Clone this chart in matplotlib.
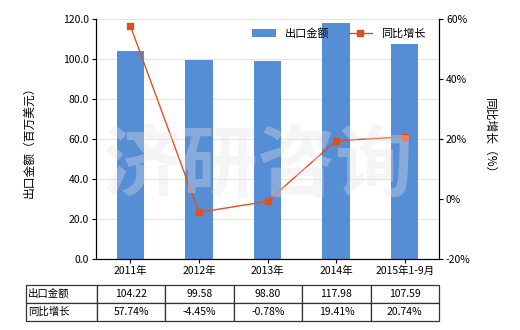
import matplotlib
matplotlib.use('Agg')
import matplotlib.pyplot as plt
import numpy as np

plt.rcParams['font.family'] = ['Noto Sans CJK SC', 'DejaVu Sans']

# data
years = ['2011年', '2012年', '2013年', '2014年', '2015年1-9月']
export_value = [104.22, 99.58, 98.80, 117.98, 107.59]     # 百万美元
yoy_growth = [57.74, -4.45, -0.78, 19.41, 20.74]           # %
value_labels = ['104.22', '99.58', '98.80', '117.98', '107.59']
growth_labels = ['57.74%', '-4.45%', '-0.78%', '19.41%', '20.74%']

bar_color = '#558ed5'
line_color = '#e0501e'
W, H = 520, 330

fig = plt.figure(figsize=(W / 100, H / 100), dpi=100)
# axes in pixel coords: left 96, right 439, top 19, bottom 259
ax = fig.add_axes([96 / W, 1 - 259 / H, (439 - 96) / W, (259 - 19) / H])
x = np.arange(len(years))
ax.bar(x, export_value, width=0.4, color=bar_color, label='出口金额', zorder=2)
ax.set_xlim(-0.5, len(years) - 0.5)
ax.set_ylim(0, 120)
ax.set_yticks(np.arange(0, 121, 20))
ax.set_yticklabels(['%.1f' % v for v in np.arange(0, 121, 20)])
ax.set_xticks(x)
ax.set_xticklabels(years)
ax.grid(axis='y', color='#e6e6d8', linewidth=0.8, zorder=0)
ax.set_ylabel('出口金额（百万美元）', fontsize=8.5, labelpad=20)
ax.spines['top'].set_visible(False)
ax.tick_params(labelsize=7.5, length=3, pad=2)

ax2 = ax.twinx()
ax2.plot(x, yoy_growth, color=line_color, marker='s', markersize=5,
         linewidth=1, label='同比增长', zorder=3)
ax2.set_ylim(-20, 60)
ax2.set_yticks(np.arange(-20, 61, 20))
ax2.set_yticklabels(['%d%%' % v for v in np.arange(-20, 61, 20)])
ax2.set_ylabel('同比增长（%）', fontsize=8.5, rotation=270, labelpad=18)
ax2.spines['top'].set_visible(False)
ax2.tick_params(labelsize=7.5, length=3, pad=2)

# watermark
fig.text(258 / W, 1 - 168 / H, '济研咨询', fontsize=56, color='#e4e4e4',
         alpha=0.35, ha='center', va='center', fontweight='bold', zorder=5)

h1, l1 = ax.get_legend_handles_labels()
h2, l2 = ax2.get_legend_handles_labels()
ax2.legend(h1 + h2, l1 + l2, loc='upper right', bbox_to_anchor=(0.98, 0.99),
           ncol=2, frameon=False, fontsize=8, handlelength=2.2,
           columnspacing=1.6, borderaxespad=0.2)

# data table below the chart
tax = fig.add_axes([26 / W, 1 - 321 / H, (439 - 26) / W, (321 - 285) / H])
tax.axis('off')
cells = [['出口金额'] + value_labels, ['同比增长'] + growth_labels]
first = (97 - 26) / (439 - 26)
rest = (1 - first) / len(years)
tbl = tax.table(cellText=cells, colWidths=[first] + [rest] * len(years),
                bbox=[0, 0, 1, 1], cellLoc='center')
tbl.auto_set_font_size(False)
tbl.set_fontsize(7.5)
for (r, c), cell in tbl.get_celld().items():
    cell.set_edgecolor('#333333')
    cell.set_linewidth(0.9)
    if c == 0:
        cell.set_text_props(ha='left')
        cell.PAD = 0.03

fig.savefig('out.png', dpi=100)
